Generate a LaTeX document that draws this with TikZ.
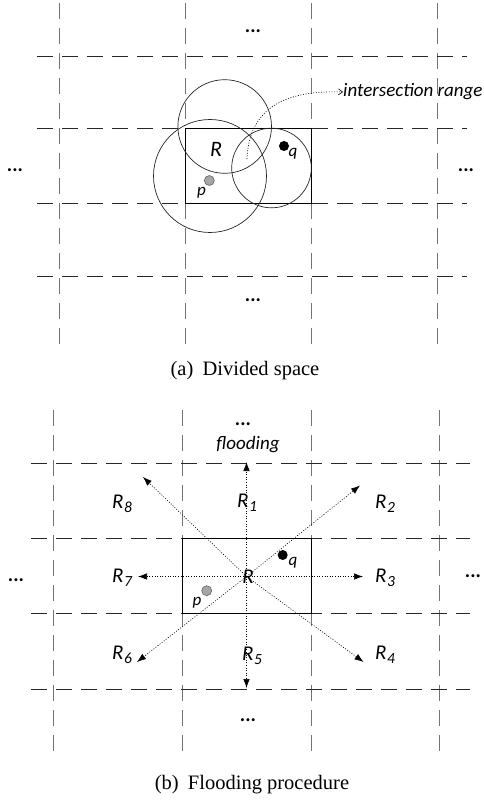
\documentclass[tikz,border=0pt]{standalone}
\usepackage{fontspec}
\setmainfont{Liberation Serif}
\newfontfamily\labfont{Carlito}
\usetikzlibrary{arrows.meta}
\tikzset{
  vline/.style={draw=black!55, line width=0.9pt, dash pattern=on 16pt off 9pt},
  hline/.style={draw=black!85, line width=0.9pt, dash pattern=on 16pt off 9pt},
  regionbox/.style={draw=black, line width=0.9pt},
  ring/.style={draw=black!85, line width=0.7pt},
  lab/.style={font=\labfont\itshape\fontsize{21}{21}\selectfont, inner sep=0pt},
  biglab/.style={font=\labfont\itshape\fontsize{22}{22}\selectfont, inner sep=0pt},
  smalllab/.style={font=\labfont\itshape\fontsize{17}{17}\selectfont, inner sep=0pt},
  annot/.style={font=\labfont\itshape\fontsize{19}{19}\selectfont, inner sep=0pt},
  dotsl/.style={font=\labfont\bfseries\fontsize{20}{20}\selectfont, inner sep=0pt},
  capt/.style={font=\fontsize{20.5}{20.5}\selectfont, inner sep=0pt},
  flood/.style={draw=black, line width=0.6pt, dash pattern=on 1pt off 1.6pt, -{Latex[length=9pt,width=6.5pt]}},
  curvy/.style={draw=black, line width=0.6pt, dash pattern=on 1pt off 1.6pt, -{Straight Barb[length=4pt,width=6pt]}},
  ptq/.style={circle, fill=black, minimum size=10pt, inner sep=0pt},
  ptp/.style={circle, fill=black!35, draw=black!60, line width=0.6pt, minimum size=10pt, inner sep=0pt},
}
\newcommand{\Rsub}[1]{R\kern0.5pt\raisebox{-3.5pt}{\fontsize{15.5}{15.5}\selectfont #1}}
\begin{document}
\begin{tikzpicture}[x=1pt,y=-1pt]
\useasboundingbox (0,0) rectangle (483,802);
% ---------------- (a) Divided space ----------------
\foreach \x in {59,185,311,437} \draw[vline] (\x,3) -- (\x,344);
\foreach \y in {56,128,203,276} \draw[hline] (37,\y) -- (467,\y);
\draw[regionbox] (185,128) rectangle (311,203);
\draw[ring] (224.7,126.5) circle[radius=46.8pt];
\draw[ring] (210,176) circle[radius=56.5pt];
\draw[ring] (271.5,168) circle[radius=39.8pt];
\node[ptq] (qa) at (284,146) {};
\node[ptp] (pa) at (209.3,180.5) {};
\node[smalllab] (qla) at (293,154) {q};
\node[smalllab] (pla) at (201.5,192.5) {p};
\node[biglab] (Ra) at (216,149) {R};
\coordinate (ia) at (247,159);
\node[annot, anchor=west] (irange) at (343,92) {intersection range};
\draw[curvy] (ia) .. controls (249,108) and (285,90) .. (irange.west);
\node[dotsl] (dta) at (253,31) {...};
\node[dotsl] (dla) at (15,170) {...};
\node[dotsl] (dra) at (466,170) {...};
\node[dotsl] (dba) at (253,300) {...};
\node[capt] (capa) at (245,371) {(a)\hspace{0.45em}Divided space};
% ---------------- (b) Flooding procedure ----------------
\foreach \x in {53,182,311,439} \draw[vline] (\x,410) -- (\x,758);
\foreach \y in {463,538,613,689} \draw[hline] (31,\y) -- (470,\y);
\draw[regionbox] (182,538) rectangle (311,613);
\coordinate (c) at (246.5,576.5);
\coordinate (tN) at (246.5,462);
\coordinate (tS) at (246.5,688);
\coordinate (tW) at (138,576.5);
\coordinate (tE) at (363,576.5);
\coordinate (tNW) at (143,477);
\coordinate (tNE) at (360,485.5);
\coordinate (tSE) at (363.5,662);
\coordinate (tSW) at (137,662);
\foreach \t in {tN,tS,tW,tE,tNW,tNE,tSE,tSW} \draw[flood] (c) -- (\t);
\node[ptq] (qb) at (282.7,555) {};
\node[ptp] (pb) at (206.7,590.7) {};
\node[smalllab] (qlb) at (293,563) {q};
\node[smalllab] (plb) at (197,603) {p};
\node[lab] (Rb) at (248,577) {R};
\node[lab] (R1) at (247,503) {\Rsub{1}};
\node[lab] (R2) at (385,504) {\Rsub{2}};
\node[lab] (R3) at (385,578) {\Rsub{3}};
\node[lab] (R4) at (385,655) {\Rsub{4}};
\node[lab] (R5) at (252,656) {\Rsub{5}};
\node[lab] (R6) at (122,655) {\Rsub{6}};
\node[lab] (R7) at (122,578) {\Rsub{7}};
\node[lab] (R8) at (122,504) {\Rsub{8}};
\node[annot] (flood) at (248,445) {flooding};
\node[dotsl] (dtb) at (243,424) {...};
\node[dotsl] (dlb) at (16,580) {...};
\node[dotsl] (drb) at (473,576) {...};
\node[dotsl] (dbb) at (248,720) {...};
\node[capt] (capb) at (252,785) {(b)\hspace{0.45em}Flooding procedure};
\end{tikzpicture}
\end{document}
